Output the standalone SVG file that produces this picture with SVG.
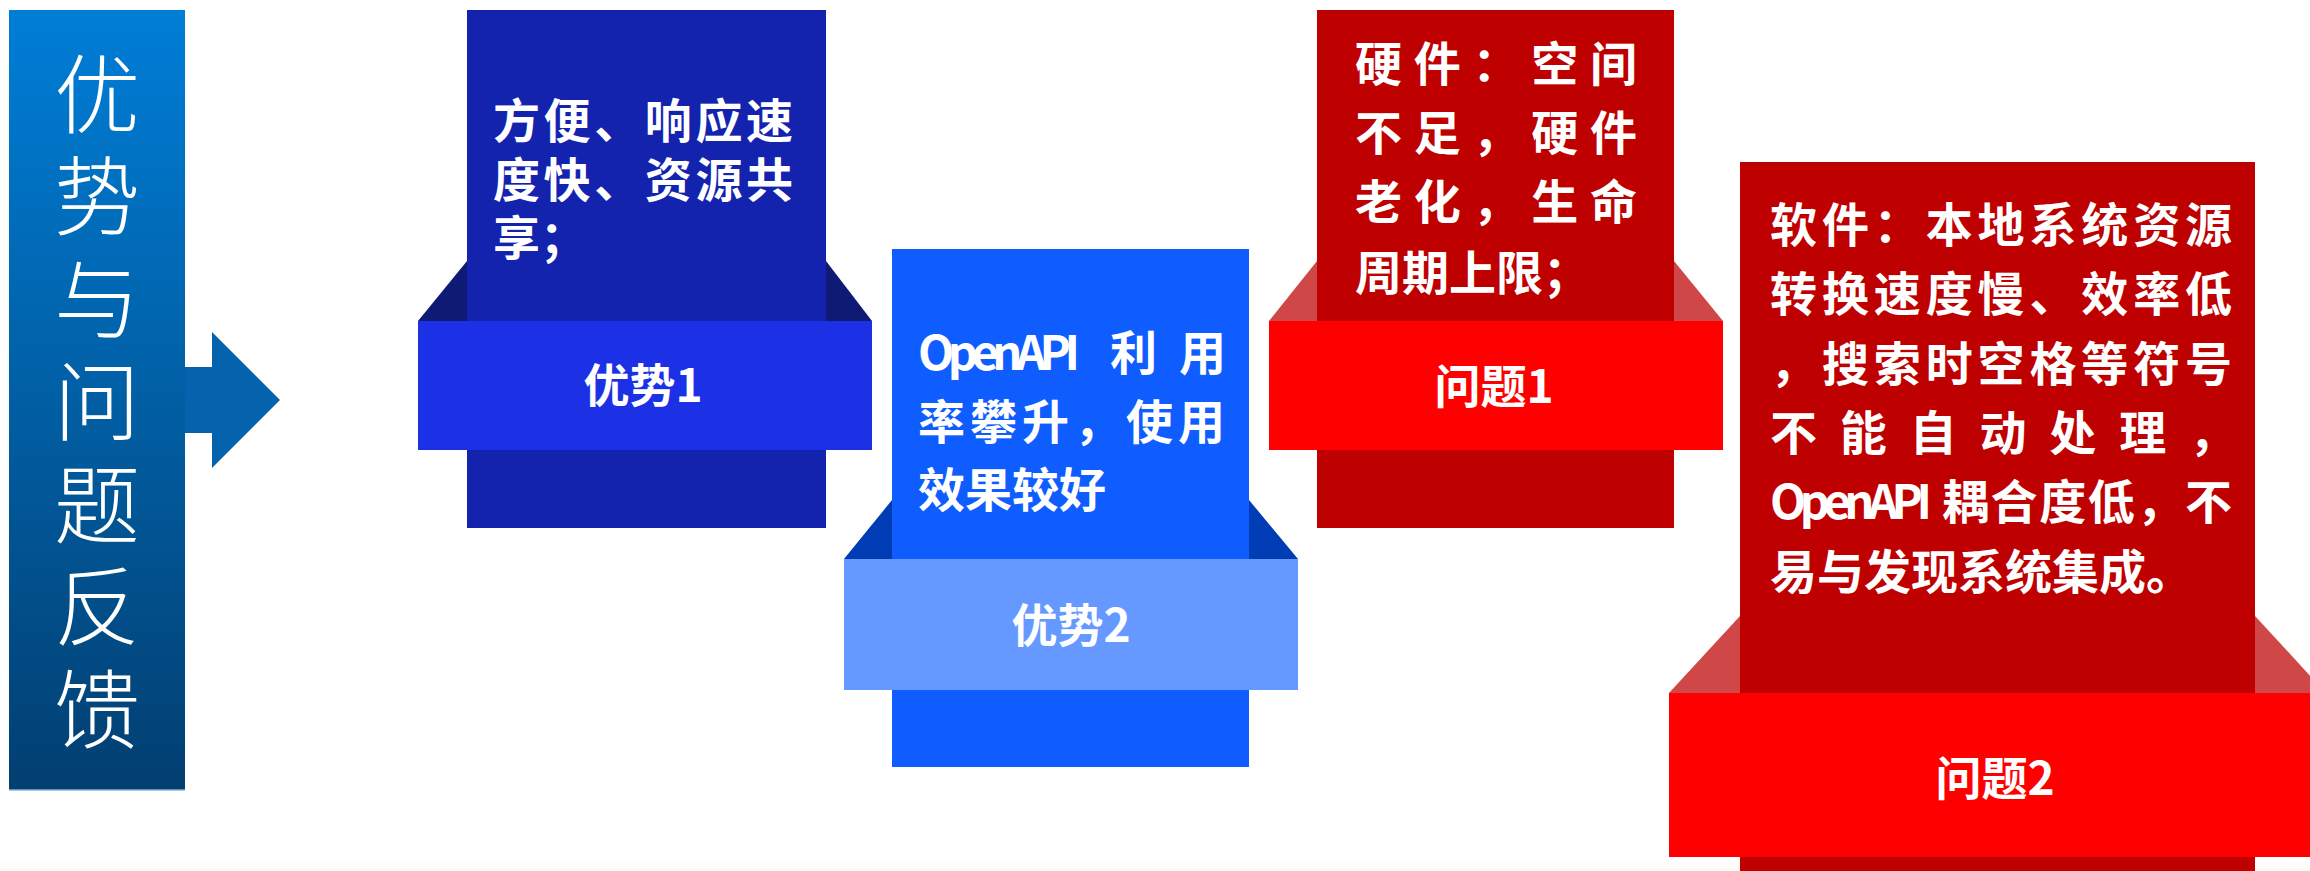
<svg xmlns="http://www.w3.org/2000/svg" width="2310" height="871" viewBox="0 0 2310 871">
<defs>
<linearGradient id="gTitle" x1="0" y1="0" x2="0" y2="1">
<stop offset="0" stop-color="#007ED7"/>
<stop offset="1" stop-color="#023F71"/>
</linearGradient>
<linearGradient id="gFloor" x1="0" y1="0" x2="0" y2="1">
<stop offset="0" stop-color="#ffffff"/>
<stop offset="1" stop-color="#faf9f4"/>
</linearGradient>
<style>
.title{font-family:"Noto Sans CJK SC","Noto Sans",sans-serif;font-size:86px;font-weight:300;fill:#fff;writing-mode:vertical-rl;letter-spacing:16.5px}
.body{font-family:"Noto Sans CJK SC","Noto Sans",sans-serif;font-size:47px;font-weight:bold;fill:#fff}
.label{font-family:"Noto Sans CJK SC","Noto Sans",sans-serif;font-size:46px;font-weight:bold;fill:#fff;text-anchor:middle}
.b1{fill:#1423AE}.band1{fill:#1C30E6}.f1{fill:#0E1A74}
.b2{fill:#0F5CFF}.band2{fill:#6699FF}.f2{fill:#003DB5}
.br{fill:#BE0000}.bandr{fill:#FF0000}.fr{fill:#CF4747}
</style>
</defs>
<rect x="0" y="0" width="2310" height="871" fill="#fff"/>
<rect x="0" y="860" width="2310" height="11" fill="url(#gFloor)"/>

<g id="title">
<rect x="9" y="10" width="176" height="780" fill="url(#gTitle)"/>
<line x1="9" y1="790" x2="185" y2="790" stroke="#8fb2d2" stroke-width="1.5"/>
<text class="title" x="97" y="51">优势与问题反馈</text>
</g>

<g id="connectors">
<polygon points="185,367 212,367 212,332 280,400 212,468 212,433 185,433" fill="#0562AD"/>
</g>

<g id="adv1">
<rect class="b1" x="467" y="10" width="359" height="518"/>
<polygon class="f1" points="418,321 467,261 467,321"/>
<polygon class="f1" points="826,261 872,321 826,321"/>
<rect class="band1" x="418" y="321" width="454" height="129"/>
<text class="body" x="493" y="138" textLength="300" lengthAdjust="spacing">方便、响应速</text>
<text class="body" x="493" y="197" textLength="300" lengthAdjust="spacing">度快、资源共</text>
<text class="body" x="493" y="255">享；</text>
<text class="label" x="643" y="402">优势1</text>
</g>

<g id="adv2">
<rect class="b2" x="892" y="249" width="357" height="518"/>
<polygon class="f2" points="844,559 892,500 892,559"/>
<polygon class="f2" points="1249,500 1298,559 1249,559"/>
<rect class="band2" x="844" y="559" width="454" height="131"/>
<text class="body" x="918" y="370"><tspan textLength="162" lengthAdjust="spacing">OpenAPI</tspan><tspan x="1110">利</tspan><tspan x="1179">用</tspan></text>
<text class="body" x="918" y="439" textLength="307" lengthAdjust="spacing">率攀升，使用</text>
<text class="body" x="918" y="507">效果较好</text>
<text class="label" x="1071" y="642">优势2</text>
</g>

<g id="prob1">
<rect class="br" x="1317" y="10" width="357" height="518"/>
<polygon class="fr" points="1269,321 1317,261 1317,321"/>
<polygon class="fr" points="1674,261 1723,321 1674,321"/>
<rect class="bandr" x="1269" y="321" width="454" height="129"/>
<text class="body" x="1355" y="81" textLength="282" lengthAdjust="spacing">硬件：空间</text>
<text class="body" x="1355" y="150" textLength="282" lengthAdjust="spacing">不足，硬件</text>
<text class="body" x="1355" y="219" textLength="282" lengthAdjust="spacing">老化，生命</text>
<text class="body" x="1355" y="290">周期上限；</text>
<text class="label" x="1494" y="403">问题1</text>
</g>

<g id="prob2">
<rect class="br" x="1740" y="162" width="515" height="709"/>
<polygon class="fr" points="1669,693 1740,616 1740,693"/>
<polygon class="fr" points="2255,616 2326,693 2255,693"/>
<rect class="bandr" x="1669" y="693" width="641" height="164"/>
<text class="body" x="1770" y="242" textLength="462" lengthAdjust="spacing">软件：本地系统资源</text>
<text class="body" x="1770" y="311" textLength="462" lengthAdjust="spacing">转换速度慢、效率低</text>
<text class="body" x="1770" y="381" textLength="462" lengthAdjust="spacing">，搜索时空格等符号</text>
<text class="body" x="1770" y="450" textLength="466" lengthAdjust="spacing">不能自动处理，</text>
<text class="body" x="1770" y="519"><tspan textLength="162" lengthAdjust="spacing">OpenAPI</tspan><tspan x="1942" textLength="290" lengthAdjust="spacing">耦合度低，不</tspan></text>
<text class="body" x="1770" y="589">易与发现系统集成。</text>
<text class="label" x="1995" y="795">问题2</text>
</g>
</svg>
